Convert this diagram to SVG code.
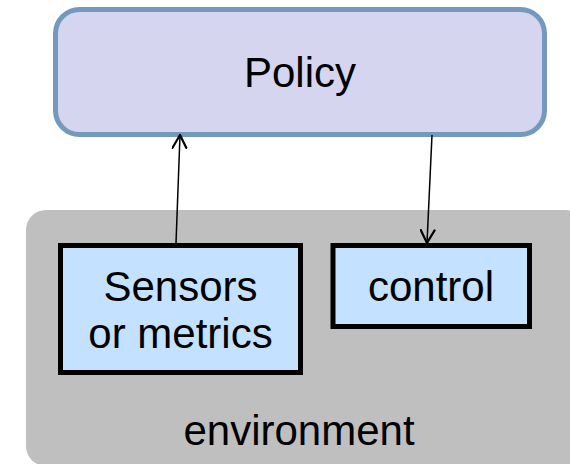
<svg xmlns="http://www.w3.org/2000/svg" width="570" height="464" viewBox="0 0 570 464">
  <defs>
    <style>
      .label { font-family: "Liberation Sans", Arial, sans-serif; font-size: 42px; fill: #000; text-anchor: middle; }
      .box { fill: #C4E1FF; stroke: #000; stroke-width: 5; }
      .link { stroke: #000; stroke-width: 1.5; fill: none; marker-end: url(#head); }
    </style>
    <marker id="head" viewBox="0 0 16 16" refX="14" refY="8" markerWidth="16" markerHeight="16" markerUnits="userSpaceOnUse" orient="auto">
      <path d="M1,1 L14,8 L1,15" fill="none" stroke="#000" stroke-width="2.2" stroke-linecap="round" stroke-linejoin="round"/>
    </marker>
  </defs>
  <rect width="570" height="464" fill="#FFFFFF"/>

  <g id="environment">
    <rect x="26" y="210" width="560" height="256" rx="20" ry="20" fill="#BFBFBF"/>
    <text class="label" x="299" y="445">environment</text>
  </g>

  <g id="policy">
    <rect x="55.5" y="9.5" width="489" height="125" rx="24" ry="24" fill="#D5D5F0" stroke="#7399BF" stroke-width="5"/>
    <text class="label" x="300" y="87">Policy</text>
  </g>

  <g id="sensors">
    <rect class="box" x="60.5" y="245.5" width="240" height="127"/>
    <text class="label" x="180.5" y="301">Sensors</text>
    <text class="label" x="180.5" y="348">or metrics</text>
  </g>

  <g id="control">
    <rect class="box" x="333" y="245.5" width="196.5" height="81"/>
    <text class="label" x="431" y="301">control</text>
  </g>

  <g id="connectors">
    <line class="link" x1="176" y1="243" x2="180" y2="135"/>
    <line class="link" x1="432" y1="135" x2="427" y2="243"/>
  </g>
</svg>
